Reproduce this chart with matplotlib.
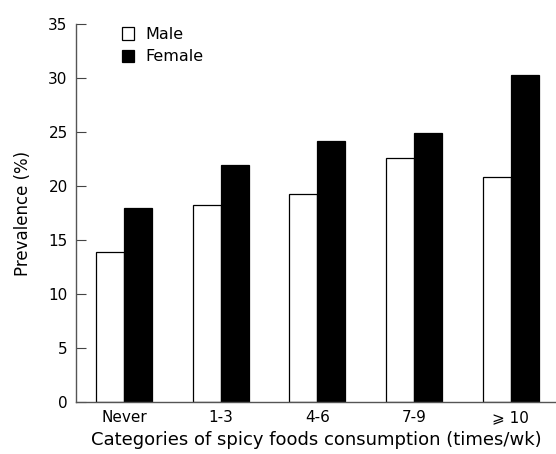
import matplotlib
matplotlib.use("Agg")
import matplotlib.pyplot as plt
import numpy as np

categories = ["Never", "1-3", "4-6", "7-9", "\u2a7e 10"]
male = [13.9, 18.2, 19.3, 22.6, 20.8]
female = [18.0, 21.9, 24.2, 24.9, 30.3]
yticks = [0, 5, 10, 15, 20, 25, 30, 35]

plt.rcParams['font.family'] = ['DejaVu Sans', 'Noto Sans CJK SC']
fig = plt.figure(figsize=(5.56, 4.54), dpi=100)
ax = fig.add_axes([76/556, 1-402/454, 1-76/556, (402-24)/454])

x = np.arange(len(categories))
w = 0.29
ax.bar(x - w/2, male, w, color="white", edgecolor="black", linewidth=0.9, label="Male")
ax.bar(x + w/2, female, w, color="black", edgecolor="black", linewidth=0.9, label="Female")

ax.set_xlim(-0.5, 4.47)
ax.set_ylim(0, 35)
ax.set_yticks(yticks)
ax.set_xticks(x)
ax.set_xticklabels(categories, fontsize=11)
ax.tick_params(axis='y', direction='in', length=7, labelsize=11, pad=6, color='#444444')
ax.tick_params(axis='x', length=0, labelsize=11, pad=6)
for s in ['top', 'right']:
    ax.spines[s].set_visible(False)
for s in ['left', 'bottom']:
    ax.spines[s].set_color('#555555')
    ax.spines[s].set_linewidth(1.0)

ax.set_ylabel("Prevalence (%)", fontsize=12, labelpad=12)
ax.set_xlabel("Categories of spicy foods consumption (times/wk)", fontsize=13, labelpad=4)

leg = ax.legend(loc="upper left", bbox_to_anchor=(0.065, 1.03), frameon=False, fontsize=11.5,
                handlelength=0.8, handleheight=0.8, handletextpad=0.7, labelspacing=0.45)

fig.savefig("out.png", dpi=100)
